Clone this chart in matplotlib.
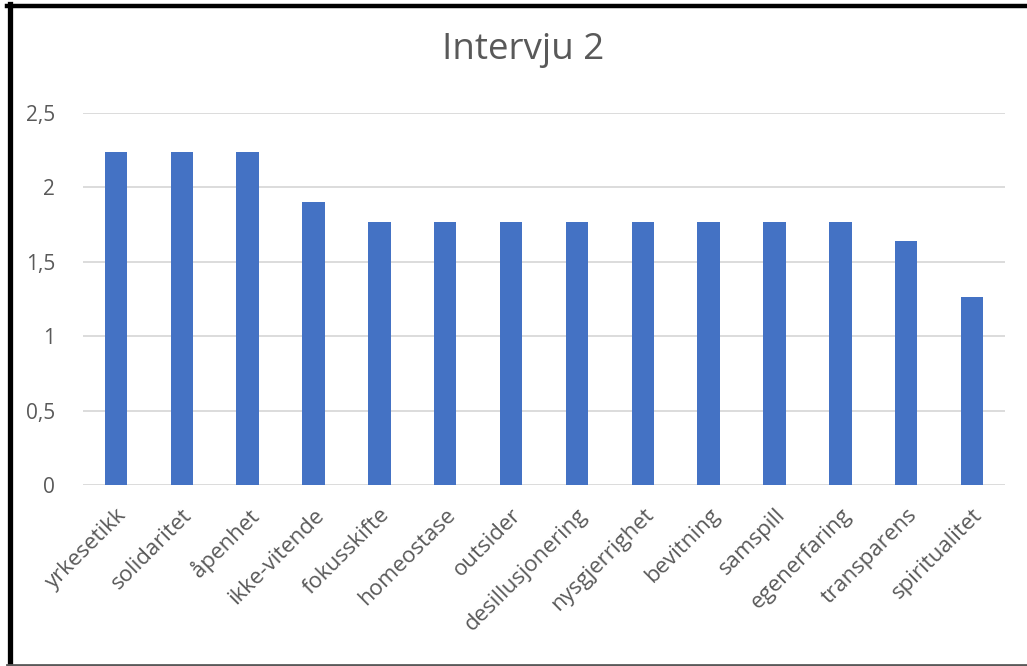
import matplotlib.pyplot as plt
from matplotlib.lines import Line2D
from matplotlib.ticker import FuncFormatter

# begreper og score fra intervju 2
kategorier = ['yrkesetikk', 'solidaritet', 'åpenhet', 'ikke-vitende', 'fokusskifte',
              'homeostase', 'outsider', 'desillusjonering', 'nysgjerrighet', 'bevitning',
              'samspill', 'egenerfaring', 'transparens', 'spiritualitet']
verdier = [2.235, 2.235, 2.235, 1.9, 1.765, 1.765, 1.765, 1.765, 1.765, 1.765,
           1.765, 1.765, 1.64, 1.265]
y_ticks = [0, 0.5, 1, 1.5, 2, 2.5]

plt.rcParams['font.family'] = ['Open Sans', 'DejaVu Sans']
tekst_farge = '#595959'

fig = plt.figure(figsize=(10.27, 6.66), dpi=100)
ax = fig.add_axes([83 / 1027, 1 - 485 / 666, (1005 - 83) / 1027, (485 - 113) / 666])

x = range(len(kategorier))
ax.bar(x, verdier, width=0.34, color='#4472C4', zorder=3)

ax.set_xlim(-0.5, len(kategorier) - 0.5)
ax.set_ylim(0, 2.5)
ax.set_yticks(y_ticks)
ax.yaxis.set_major_formatter(FuncFormatter(lambda v, p: ('%g' % v).replace('.', ',')))
ax.grid(axis='y', color='#D9D9D9', linewidth=1.3, zorder=0)
for s in ax.spines.values():
    s.set_visible(False)
ax.tick_params(axis='y', length=0, pad=20, labelsize=15, labelcolor=tekst_farge)
ax.tick_params(axis='x', length=0, pad=14, labelsize=16, labelcolor=tekst_farge)

ax.set_xticks(list(x))
ax.set_xticklabels(kategorier, rotation=45, ha='right', rotation_mode='anchor')

fig.text(523 / 1027, 1 - 50 / 666, 'Intervju 2', ha='center', va='center',
         fontsize=26.5, color=tekst_farge)

# ramme rundt figuren
fig.add_artist(Line2D([9.5 / 1027, 9.5 / 1027], [0, 1 - 4 / 666], transform=fig.transFigure,
                      color='black', linewidth=3.8))
fig.add_artist(Line2D([7 / 1027, 1], [1 - 6 / 666, 1 - 6 / 666], transform=fig.transFigure,
                      color='black', linewidth=3.2))
fig.add_artist(Line2D([7 / 1027, 1], [1.5 / 666, 1.5 / 666], transform=fig.transFigure,
                      color='#595959', linewidth=2))

fig.savefig('out.png', dpi=100)
